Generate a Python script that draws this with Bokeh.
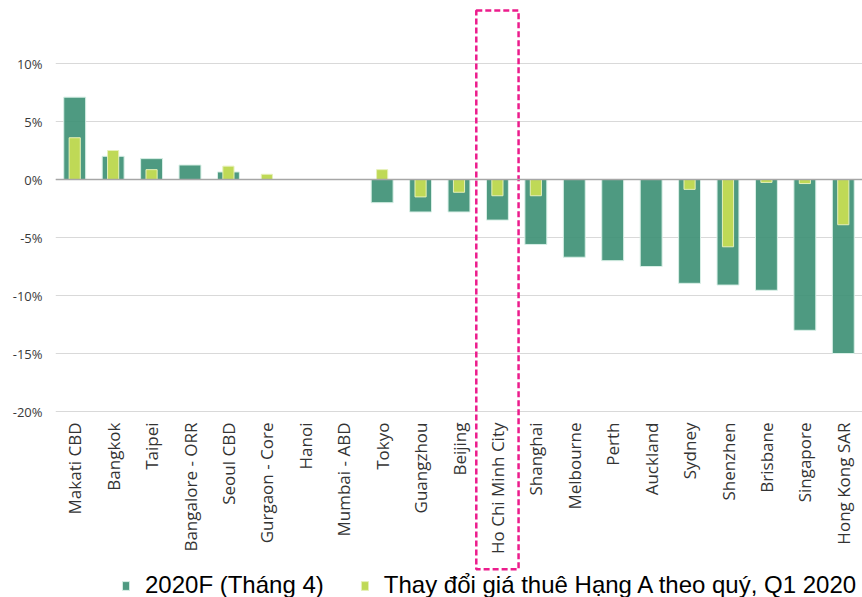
from math import pi
from bokeh.plotting import figure
from bokeh.models import (FactorRange, Range1d, FixedTicker, PrintfTickFormatter,
                          Span, Legend, LegendItem, ColumnDataSource)
from bokeh.core.properties import value
from bokeh.embed import file_html
from bokeh.resources import INLINE

cities = ["Makati CBD", "Bangkok", "Taipei", "Bangalore - ORR", "Seoul CBD",
          "Gurgaon - Core", "Hanoi", "Mumbai - ABD", "Tokyo", "Guangzhou",
          "Beijing", "Ho Chi Minh City", "Shanghai", "Melbourne", "Perth",
          "Auckland", "Sydney", "Shenzhen", "Brisbane", "Singapore", "Hong Kong SAR"]
forecast_2020 = [7.1, 2.0, 1.8, 1.25, 0.65, 0.0, 0.0, 0.0, -2.0, -2.8, -2.8,
                 -3.5, -5.6, -6.7, -7.0, -7.5, -8.95, -9.1, -9.55, -13.0, -15.0]
q1_change = [3.6, 2.5, 0.85, 0.0, 1.15, 0.45, 0.0, 0.0, 0.85, -1.5, -1.1,
             -1.4, -1.4, 0.0, 0.0, 0.0, -0.85, -5.8, -0.25, -0.35, -3.9]
y_ticks = [-20, -15, -10, -5, 0, 5, 10]
series_labels = ["2020F (Tháng 4)", "Thay đổi giá thuê Hạng A theo quý, Q1 2020"]
highlight = "Ho Chi Minh City"

src = ColumnDataSource(dict(city=cities, f=forecast_2020, q=q1_change,
                            ly=[-20.95] * len(cities)))

p = figure(width=862, height=597,
           x_range=FactorRange(*cities, range_padding=0, factor_padding=0),
           y_range=Range1d(-36.034, 15.0),
           output_backend="svg", toolbar_location=None, x_axis_location=None,
           min_border_left=55, min_border_right=0, min_border_top=5,
           min_border_bottom=0)
p.outline_line_color = None
p.background_fill_color = "white"
p.border_fill_color = "white"

p.yaxis.ticker = FixedTicker(ticks=y_ticks)
p.yaxis.formatter = PrintfTickFormatter(format="%d%%")
p.yaxis.axis_line_color = None
p.yaxis.major_tick_line_color = None
p.yaxis.minor_tick_line_color = None
p.yaxis.major_label_standoff = 7
p.yaxis.major_label_text_font = "Open Sans"
p.yaxis.major_label_text_font_size = "13px"
p.yaxis.major_label_text_color = "#3a3a3a"
p.xgrid.grid_line_color = None
p.ygrid.grid_line_color = "#d9d9d9"
p.ygrid.grid_line_width = 1.2

dark = p.vbar(x="city", top="f", bottom=0, width=0.57, source=src,
              fill_color="#3B8F73", fill_alpha=0.9,
              line_color="#d8efe6", line_width=1)
light = p.vbar(x="city", top="q", bottom=0, width=0.29, source=src,
               fill_color="#BFD956", line_color="#e6f0b8", line_width=1)

p.add_layout(Span(location=0, dimension="width", line_color="#a6a6a6",
                  line_width=1.5))

p.text(x="city", y="ly", text="city", source=src, angle=pi / 2,
       text_align="right", text_baseline="middle",
       text_font=value("Open Sans"), text_font_size="17px", text_color="#333333")

p.rect(x=[highlight], y=[(14.57 - 33.6) / 2], width=1.1, height=14.57 + 33.6,
       fill_color=None, line_color="#EC1C8C", line_width=2.5, line_dash="6 3")

legend = Legend(items=[LegendItem(label=series_labels[0], renderers=[dark]),
                       LegendItem(label=series_labels[1], renderers=[light])],
                orientation="horizontal", location=(66, -2),
                glyph_width=9, glyph_height=11, label_standoff=15, spacing=36,
                padding=0, margin=0, border_line_color=None,
                background_fill_alpha=0,
                label_text_font="Liberation Sans", label_text_font_size="24px",
                label_text_color="#000000")
p.add_layout(legend)

open("out.html", "w").write(file_html(p, INLINE))
